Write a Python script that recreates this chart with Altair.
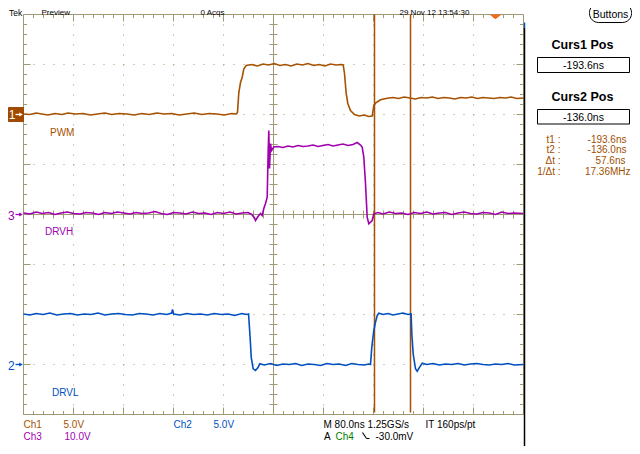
import altair as alt
import pandas as pd

# ---------------- data (time in ns, trigger = 0; amplitude in volts) ----------------
pwm_t = [-755.2, -745, -735, -726, -716, -705, -694, -684, -672, -660, -648, -637, -625, -614,
         -602, -590, -578, -566, -554, -542, -530, -518, -506, -494, -482, -470, -458, -446,
         -434, -422, -414.4, -412.8, -410.7, -408, -405.3, -402.7, -398.9, -390, -381, -372,
         -363, -354, -345, -336, -327, -318, -309, -300, -291, -282, -273, -264, -255, -247,
         -243.7, -241.6, -238.9, -236.3, -232, -225.6, -218, -210, -203, -197.3, -194.7, -192,
         -184, -173.3, -164, -155, -146, -137, -128, -119, -110, -101, -92, -83, -74, -65, -56,
         -47, -38, -29, -20, -11, -2, 7, 16, 25, 34, 44.8]
pwm_v = [0.05, 0.0, 0.15, 0.05, -0.05, 0.1, 0.0, 0.15, 0.05, 0.1, -0.05, 0.05, 0.15, 0.0,
         0.1, 0.05, -0.05, 0.1, 0.0, 0.15, 0.05, 0.1, -0.05, 0.05, 0.15, 0.0, 0.1, 0.05,
         -0.05, 0.1, 0.05, 0.23, 2.2, 3.2, 3.73, 4.57, 4.9, 5.0, 4.85, 5.05,
         4.95, 5.1, 4.9, 5.0, 4.85, 5.05, 4.95, 5.1, 4.9, 5.0, 4.85, 5.05, 4.95, 5.0,
         4.95, 4.1, 2.1, 1.1, 0.4, 0.0, -0.15, -0.05, -0.2, -0.15, 0.9, 1.13,
         1.47, 1.63, 1.7, 1.6, 1.75, 1.65, 1.55, 1.7, 1.65, 1.75, 1.6, 1.7, 1.65, 1.55, 1.7,
         1.65, 1.75, 1.6, 1.7, 1.65, 1.6, 1.7, 1.65, 1.75, 1.6, 1.65]

drvh_t = [-755.2, -745, -735, -725, -715, -705, -695, -685, -675, -665, -655, -645, -635, -625,
          -615, -605, -595, -585, -575, -565, -555, -545, -535, -525, -515, -505, -495, -485,
          -475, -465, -455, -445, -435, -425, -415, -405, -396, -390, -386, -384, -380, -376,
          -373.3, -370.7, -368, -365.3, -363.7, -362.7, -361.6, -360, -358.4, -354.7, -348,
          -340, -332, -324, -316, -308, -300, -292, -284, -276, -268, -260, -252, -244, -236,
          -228, -221.3, -216, -213.3, -210.7, -208, -205.3, -202.7, -197.3, -194.7, -188, -180,
          -170, -160, -150, -140, -130, -120, -110, -100, -90, -80, -70, -60, -50, -40, -30,
          -20, -10, 0, 10, 20, 30, 44.8]
drvh_v = [0.3, 0.1, 0.5, 0.2, 0.4, 0.0, 0.3, 0.5, 0.2, 0.1, 0.4, 0.3, 0.0, 0.4,
          0.2, 0.5, 0.3, 0.1, 0.4, 0.2, 0.3, 0.6, 0.2, 0.0, 0.4, 0.3, 0.1, 0.5,
          0.2, 0.3, 0.0, 0.4, 0.2, 0.5, 0.1, 0.3, 0.4, 0.0, -0.6, -1.2, -0.4, 0.2,
          -0.2, 1.2, 2.2, 3.46, 12.8, 16.8, 9.2, 14.2, 12.8, 13.5, 13.6,
          13.4, 13.7, 13.5, 13.8, 13.6, 13.7, 13.9, 13.6, 13.8, 14.0, 13.7, 13.9, 14.1, 13.8,
          14.0, 14.4, 13.9, 13.5, 11.46, 6.2, -0.54, -1.86, -1.2, 0.14, 0.4, 0.1,
          0.5, 0.2, 0.3, 0.0, 0.4, 0.2, 0.5, 0.1, 0.3, 0.4, 0.0, 0.3, 0.5, 0.2, 0.1,
          0.4, 0.3, 0.0, 0.5, 0.2, 0.3, 0.2]

drvl_t = [-755.2, -745, -735, -724, -713, -702, -691, -680, -669, -658, -647, -636, -625, -614,
          -603, -592, -581, -570, -559, -548, -537, -526, -518, -516.8, -515, -505, -494, -483,
          -472, -461, -450, -439, -428, -417, -406, -398, -395.1, -392, -390.9, -387.7, -384,
          -380.3, -377.1, -370, -360, -350, -340, -330, -320, -310, -300, -290, -280, -270,
          -260, -250, -240, -230, -220, -210, -203, -200, -197.9, -194.7, -192, -189.3, -186.7,
          -180, -172, -164, -156, -148, -140, -135, -133.9, -131.7, -128, -125.3, -122.1,
          -117.3, -110, -100, -90, -80, -70, -60, -50, -40, -30, -20, -10, 0, 10, 20, 30, 44.8]
drvl_v = [5.05, 4.95, 5.1, 5.0, 5.15, 4.95, 5.05, 5.1, 4.95, 5.05, 5.0, 5.15, 4.95, 5.05,
          5.1, 5.0, 4.95, 5.1, 5.05, 4.95, 5.1, 5.0, 5.15, 5.5, 5.05, 4.95, 5.1, 5.0,
          5.05, 4.95, 5.1, 5.0, 5.05, 4.9, 5.1, 5.0, 5.05, 2.07, 0.73, -0.43, -0.6,
          -0.33, 0.07, -0.05, 0.1, -0.1, 0.05, 0.0, 0.1, -0.1, 0.05, 0.0, -0.1, 0.1,
          0.0, 0.05, -0.1, 0.1, 0.0, -0.05, 0.05, 0.0, 1.73, 3.4, 4.23, 4.9, 5.13,
          5.0, 5.1, 4.95, 5.05, 5.15, 5.0, 5.05, 3.07, 1.07, -0.43, -0.67, -0.33,
          0.13, 0.0, 0.1, -0.05, 0.05, 0.0, 0.1, -0.05, 0.05, 0.1, 0.0, -0.05, 0.05, 0.0, 0.1, -0.05, 0.0]

channels = ["PWM", "DRVH", "DRVL"]
ground_div = [2.0, 0.0, -3.0]        # ground marker position (divisions)
volts_per_div = [5.0, 10.0, 5.0]
trace_colors = ["#A65200", "#A000B0", "#0050C0"]
cursor_t = [-193.6, -136.0]

X0, X1 = -755.2, 44.8      # 10 div x 80 ns
NS_DIV = 80.0

# ---------------- build tables ----------------
rows = []
for ch, ts, vs, g, vpd in zip(channels, [pwm_t, drvh_t, drvl_t], [pwm_v, drvh_v, drvl_v],
                              ground_div, volts_per_div):
    for i, (t, v) in enumerate(zip(ts, vs)):
        rows.append({"t": t, "pos": g + v / vpd, "ch": ch, "idx": i})
traces = pd.DataFrame(rows)

ns_px = NS_DIV / 50.0
div_px = 1.0 / 50.0
segs = []
for k in range(51):
    t = X0 + k * 10 * ns_px
    ln = 7 if k % 5 == 0 else 3.5
    segs.append({"x": t, "x2": t, "y": 4, "y2": 4 - ln * div_px})
    segs.append({"x": t, "x2": t, "y": -4, "y2": -4 + ln * div_px})
    segs.append({"x": t, "x2": t, "y": -4 * div_px, "y2": 4 * div_px})
for j in range(41):
    y = -4 + j * 10 * div_px
    ln = 7 if j % 5 == 0 else 3.5
    segs.append({"x": X0, "x2": X0 + ln * ns_px, "y": y, "y2": y})
    segs.append({"x": X1, "x2": X1 - ln * ns_px, "y": y, "y2": y})
    xc = X0 + 5 * NS_DIV
    segs.append({"x": xc - 4 * ns_px, "x2": xc + 4 * ns_px, "y": y, "y2": y})
# solid center cross
segs.append({"x": X0, "x2": X1, "y": 0, "y2": 0})
segs.append({"x": X0 + 5 * NS_DIV, "x2": X0 + 5 * NS_DIV, "y": -4, "y2": 4})
segs = pd.DataFrame(segs)

dots = []
for k in range(1, 10):
    if k != 5:
        t = X0 + k * NS_DIV
        dots.append({"x": t, "x2": t, "y": 4, "y2": -4})
for j in range(-3, 4):
    if j != 0:
        dots.append({"x": X0, "x2": X1, "y": j, "y2": j})
dots = pd.DataFrame(dots)

cursors = pd.DataFrame({"t": cursor_t})

GRID = "#A09A74"
FONT = "Liberation Sans"
xs = alt.Scale(domain=[X0, X1], nice=False, zero=False)
ys = alt.Scale(domain=[-4, 4], nice=False, zero=False)
one = pd.DataFrame({"k": [0]})


def px(p):
    return p - 23


def py(p):
    return p - 14


def txt(s, x, y, color="black", size=10, align="left", weight="normal", baseline="middle"):
    return alt.Chart(one).mark_text(text=s, align=align, baseline=baseline, fontSize=size,
                                    font=FONT, fontWeight=weight, color=color).encode(
        x=alt.value(px(x)), y=alt.value(py(y)))


def seg(x1, y1, x2, y2, color, w=1.0):
    return alt.Chart(one).mark_rule(color=color, strokeWidth=w).encode(
        x=alt.value(px(x1)), y=alt.value(py(y1)), x2=alt.value(px(x2)), y2=alt.value(py(y2)))


def box(x1, y1, x2, y2, stroke="black", fill="white", r=0, w=1.0):
    return alt.Chart(one).mark_rect(fill=fill, stroke=stroke, strokeWidth=w, cornerRadius=r).encode(
        x=alt.value(px(x1)), y=alt.value(py(y1)), x2=alt.value(px(x2)), y2=alt.value(py(y2)))


def arrowhead(x, y, color):
    return alt.Chart(one).mark_point(shape="triangle-right", filled=True, size=18, color=color,
                                     opacity=1).encode(x=alt.value(px(x)), y=alt.value(py(y)))


frame = box(23, 14, 523, 414, stroke=GRID, fill="white")
grid = alt.Chart(dots).mark_rule(color=GRID, strokeWidth=1, strokeDash=[1, 9]).encode(
    x=alt.X("x:Q", scale=xs, axis=None), x2="x2:Q",
    y=alt.Y("y:Q", scale=ys, axis=None), y2="y2:Q")
ticks = alt.Chart(segs).mark_rule(color=GRID, strokeWidth=1).encode(
    x=alt.X("x:Q", scale=xs, axis=None), x2="x2:Q",
    y=alt.Y("y:Q", scale=ys, axis=None), y2="y2:Q")
lines = alt.Chart(traces).mark_line(strokeWidth=1.6).encode(
    x=alt.X("t:Q", scale=xs, axis=None),
    y=alt.Y("pos:Q", scale=ys, axis=None),
    color=alt.Color("ch:N", scale=alt.Scale(domain=channels, range=trace_colors), legend=None),
    order="idx:Q")
curs = alt.Chart(cursors).mark_rule(color="#A65200", strokeWidth=1.5).encode(
    x=alt.X("t:Q", scale=xs, axis=None), y=alt.value(0), y2=alt.value(398))
trig = alt.Chart(pd.DataFrame({"t": [0.0]})).mark_point(
    shape="M-1,0L1,0L0,0.8Z", filled=True, size=144, color="#F26A1B", opacity=1).encode(
    x=alt.X("t:Q", scale=xs, axis=None), y=alt.value(0))

layers = [frame, grid, ticks, curs, lines, trig]

# right edge line + ch indicator
layers += [seg(524, 27, 524, 446, "black", 1.5), seg(524, 22, 524, 27, "#0050C0", 1.5)]

# channel markers
layers += [box(8, 107, 23, 121, stroke="#A04A00", fill="#A04A00"),
           txt("1", 11.5, 114.5, "white", 12, "center"),
           seg(15, 114, 20, 114, "white", 1.3), arrowhead(20.5, 114, "white"),
           txt("3", 10.8, 215, "#A000B0", 12, "center"),
           seg(15, 214, 20, 214, "#A000B0", 1.3), arrowhead(20.5, 214, "#A000B0"),
           txt("2", 10.8, 365, "#0050C0", 12, "center"),
           seg(15, 364, 20, 364, "#0050C0", 1.3), arrowhead(20.5, 364, "#0050C0")]

# trace labels
layers += [txt("PWM", 49.5, 132, "#A65200"), txt("DRVH", 44.5, 231, "#A000B0"),
           txt("DRVL", 51.5, 392, "#0050C0")]

# header (squeezed into the strip above the graticule)
layers += [txt("Tek", 8.5, 8.2, size=8.5, baseline="top"),
           txt("Preview", 41, 8.2, size=8, baseline="top"),
           txt("0 Acqs", 200, 8.2, size=8, baseline="top"),
           txt("29 Nov 12 13:54:30", 399, 8.2, size=8, baseline="top"),
           box(589, 3, 631, 22, stroke="black", fill="white", r=9),
           txt("Buttons", 610, 14.5, size=10.5, align="center")]

# cursor panel
ORG = "#A05000"
layers += [txt("Curs1 Pos", 582, 44.7, size=12.5, align="center", weight="bold"),
           box(537, 57, 629, 72),
           txt("-193.6ns", 583, 65, size=10.5, align="center"),
           txt("Curs2 Pos", 582, 96.7, size=12.5, align="center", weight="bold"),
           box(537, 109, 629, 123.5),
           txt("-136.0ns", 583, 117.5, size=10.5, align="center"),
           txt("t1 :", 560, 139, ORG, 10, "right"), txt("-193.6ns", 626, 139, ORG, 10, "right"),
           txt("t2 :", 560, 149.5, ORG, 10, "right"), txt("-136.0ns", 626, 149.5, ORG, 10, "right"),
           txt("\u0394t :", 560, 160.3, ORG, 10, "right"), txt("57.6ns", 625, 160.3, ORG, 10, "right"),
           txt("1/\u0394t :", 560, 171.7, ORG, 10, "right"), txt("17.36MHz", 630, 171.7, ORG, 10, "right")]

# footer
layers += [txt("Ch1", 23, 424, "#A65200"), txt("5.0V", 63, 424, "#A65200"),
           txt("Ch3", 23, 436, "#A000B0"), txt("10.0V", 64, 436, "#A000B0"),
           txt("Ch2", 173, 424, "#0050C0"), txt("5.0V", 213, 424, "#0050C0"),
           txt("M 80.0ns 1.25GS/s", 323, 424), txt("IT 160ps/pt", 425, 424),
           txt("A", 323.5, 436), txt("Ch4", 335, 436, "#008000"),
           seg(362, 432, 366, 438, "black", 1.1), seg(366, 438, 369, 438, "black", 1.1),
           txt("-30.0mV", 375, 436)]

chart = alt.layer(*layers).properties(
    width=500, height=400,
    padding={"left": 15.5, "top": 6.5, "right": 108.5, "bottom": 31.5},
    autosize=alt.AutoSizeParams(type="none"),
    background="white",
).configure_view(stroke=None)

chart.save("out.html", embed_options={"renderer": "svg", "actions": False})
